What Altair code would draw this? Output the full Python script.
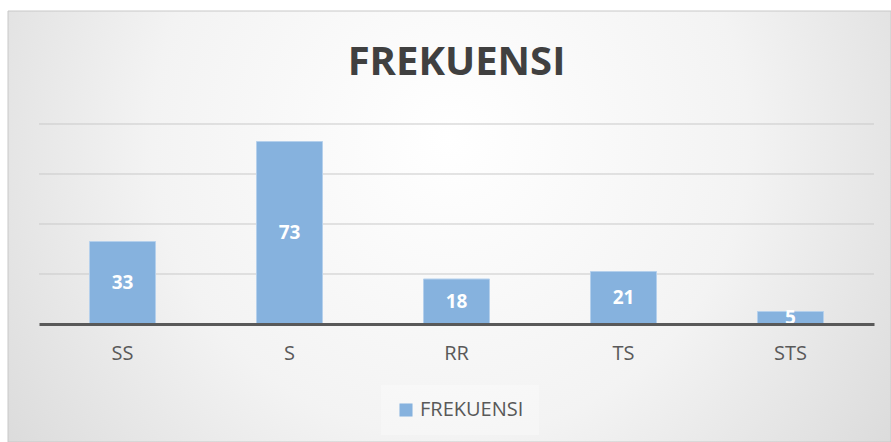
import altair as alt
import pandas as pd

categories = ["SS", "S", "RR", "TS", "STS"]
values = [33, 73, 18, 21, 5]
series_name = "FREKUENSI"
grid_values = [20, 40, 60, 80]

W, H = 835, 200
PL, PT = 39, 124
BAR = "#86b2de"
FONT = "Open Sans"

df = pd.DataFrame({"cat": categories, "value": values, "series": [series_name] * len(values)})
df["mid"] = df["value"] / 2
grid_df = pd.DataFrame({"g": grid_values})
bg_df = pd.DataFrame({"a": [0]})

yscale = alt.Scale(domain=[0, 80], nice=False)
xscale = alt.Scale(domain=categories, paddingInner=0, paddingOuter=0)

gradient = {
    "gradient": "radial",
    "x1": 0.5, "y1": 0.4, "r1": 0,
    "x2": 0.5, "y2": 0.4, "r2": 0.75,
    "stops": [
        {"offset": 0, "color": "#ffffff"},
        {"offset": 0.45, "color": "#f3f3f3"},
        {"offset": 1, "color": "#cfcfcf"},
    ],
}

bg = alt.Chart(bg_df).mark_rect(fill=gradient, stroke="#c8c8c8", strokeWidth=1).encode(
    x=alt.value(8 - PL), x2=alt.value(891 - PL),
    y=alt.value(11 - PT), y2=alt.value(442 - PT),
)

grid = alt.Chart(grid_df).mark_rule(color="#c9c9c9", strokeWidth=1).encode(
    y=alt.Y("g:Q", scale=yscale, axis=None),
    x=alt.value(0), x2=alt.value(W),
)

bars = alt.Chart(df).mark_bar(size=66, stroke="#b5d0ec", strokeWidth=1).encode(
    x=alt.X("cat:N", scale=xscale, sort=categories, title=None,
            axis=alt.Axis(labelFont=FONT, labelFontSize=20, labelColor="#595959",
                          labelPadding=19, ticks=False, domain=True,
                          domainColor="#595959", domainWidth=3, labelAngle=0,
                          zindex=1)),
    y=alt.Y("value:Q", scale=yscale, axis=None),
    color=alt.Color("series:N", scale=alt.Scale(domain=[series_name], range=[BAR]),
                    legend=alt.Legend(orient="none", legendX=342, legendY=261,
                                      title=None, symbolType="square", symbolSize=170,
                                      symbolStrokeWidth=0, labelFont=FONT,
                                      labelFontSize=20, labelColor="#595959",
                                      padding=15, fillColor="rgba(255,255,255,0.3)")),
)

labels = alt.Chart(df).mark_text(color="white", font=FONT, fontSize=19,
                                 fontWeight="bold", baseline="middle").encode(
    x=alt.X("cat:N", scale=xscale, sort=categories),
    y=alt.Y("mid:Q", scale=yscale, axis=None),
    text=alt.Text("value:Q"),
)

chart = alt.layer(bg, grid, bars, labels).properties(
    width=W, height=H,
    autosize=alt.AutoSizeParams(type="none"),
    padding={"left": PL, "top": PT, "right": 891 - PL - W, "bottom": 442 - PT - H},
    background="white",
    title=alt.TitleParams(series_name, font=FONT, fontSize=40, fontWeight="bold",
                          color="#404040", anchor="middle", offset=20, dy=92),
).configure_view(stroke=None)

chart.save("out.html", embed_options={"renderer": "svg", "actions": False})
